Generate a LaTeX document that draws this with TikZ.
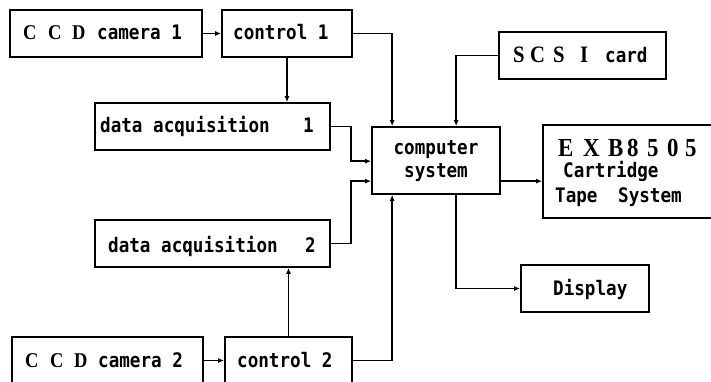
\documentclass[tikz,border=0pt]{standalone}
\usepackage{fontspec}
\usetikzlibrary{arrows.meta,calc}
\newfontfamily\lblfont{DejaVu Sans Mono}[FakeStretch=0.88]
\newfontfamily\capfont{Liberation Serif}[FakeStretch=0.88]
% fixed-pitch letter for the spaced capitals
\newcommand\pch[2]{\makebox[#1][l]{#2}}
\tikzset{
  box/.style={draw, line width=1.7pt, minimum height=47pt, inner sep=0pt},
  lbl/.style={anchor=base west, inner sep=0pt, font=\lblfont\bfseries\fontsize{20}{22}\selectfont},
  clbl/.style={lbl, anchor=base},
  caps/.style={anchor=base west, inner sep=0pt, font=\capfont\bfseries\fontsize{#1}{#1}\selectfont},
  wire/.style={line width=1.6pt, -{Latex[length=6pt,width=5pt]}},
}
\begin{document}
\begin{tikzpicture}[x=1pt,y=-1pt]
\useasboundingbox[fill=white] (0,0) rectangle (711,382);

% boxes
\node[box, minimum width=192pt] (cam1) at (106,33.5) {};
\node[box, minimum width=130pt] (ctl1) at (287,33.5) {};
\node[box, minimum width=235pt] (daq1) at (212.5,126.5) {};
\node[box, minimum width=235pt] (daq2) at (212.5,243.5) {};
\node[box, minimum width=191pt] (cam2) at (107.5,360.5) {};
\node[box, minimum width=127pt] (ctl2) at (288.5,360.5) {};
\node[box, minimum width=128pt, minimum height=67pt] (comp) at (436,160.5) {};
\node[box, minimum width=167pt] (scsi) at (582.5,55.5) {};
\node[box, minimum width=177pt, minimum height=93pt] (exb) at (631.5,171.5) {};
\node[box, minimum width=128pt] (disp) at (585,288.5) {};

% texts
\node[caps=21] (t1a) at (23,40) {\pch{25pt}{C}\pch{24pt}{C}D};
\node[lbl] (t1b) at (97,40) {camera 1};
\node[lbl] (t2) at (233,40) {control 1};
\node[lbl] (t3a) at (100,133) {data acquisition};
\node[lbl] (t3b) at (303,133) {1};
\node[lbl] (t4a) at (108,252) {data acquisition};
\node[lbl] (t4b) at (305,252) {2};
\node[caps=21] (t5a) at (25,367) {\pch{25pt}{C}\pch{24pt}{C}D};
\node[lbl] (t5b) at (98,367) {camera 2};
\node[lbl] (t6) at (237,367) {control 2};
\node[clbl] (t7a) at (436,155) {computer};
\node[clbl] (t7b) at (436,177) {system};
\node[caps=23.5] (t8a) at (513,63) {\pch{17pt}{S}\pch{23pt}{C}\pch{27pt}{S}I};
\node[lbl] (t8b) at (605,63) {card};
\node[caps=26] (t9a) at (558,157)
  {\pch{25pt}{E}\pch{25pt}{X}\pch{19pt}{B}\pch{20pt}{8}\pch{20pt}{5}\pch{18pt}{0}5};
\node[lbl] (t9b) at (563,178) {Cartridge};
\node[lbl] (t9c) at (555,202) {Tape};
\node[lbl] (t9d) at (618,202) {System};
\node[lbl] (t10) at (553,295) {Display};

% connectors
\draw[wire] (cam1.east) -- (ctl1.west);
\draw[wire] (cam2.east) -- (ctl2.west);
\draw[wire] (ctl1.south) -- (ctl1.south |- daq1.north);
\draw[wire] (ctl2.north) -- (ctl2.north |- daq2.south);
\draw[wire] (ctl1.east) -| ([xshift=21pt]comp.north west);
\draw[wire] (scsi.west) -| ([xshift=85pt]comp.north west);
\draw[wire] (daq1.east) -- ++(20,0) |- ([yshift=-35pt]comp.north west);
\draw[wire] (daq2.east) -- ++(20,0) |- ([yshift=-55pt]comp.north west);
\draw[wire] (ctl2.east) -| ([xshift=21pt]comp.south west);
\draw[wire] ([yshift=-55pt]comp.north east) -- ([yshift=-55pt]comp.north east -| exb.west);
\draw[wire] ([xshift=85pt]comp.south west) |- (disp.west);
\end{tikzpicture}
\end{document}
